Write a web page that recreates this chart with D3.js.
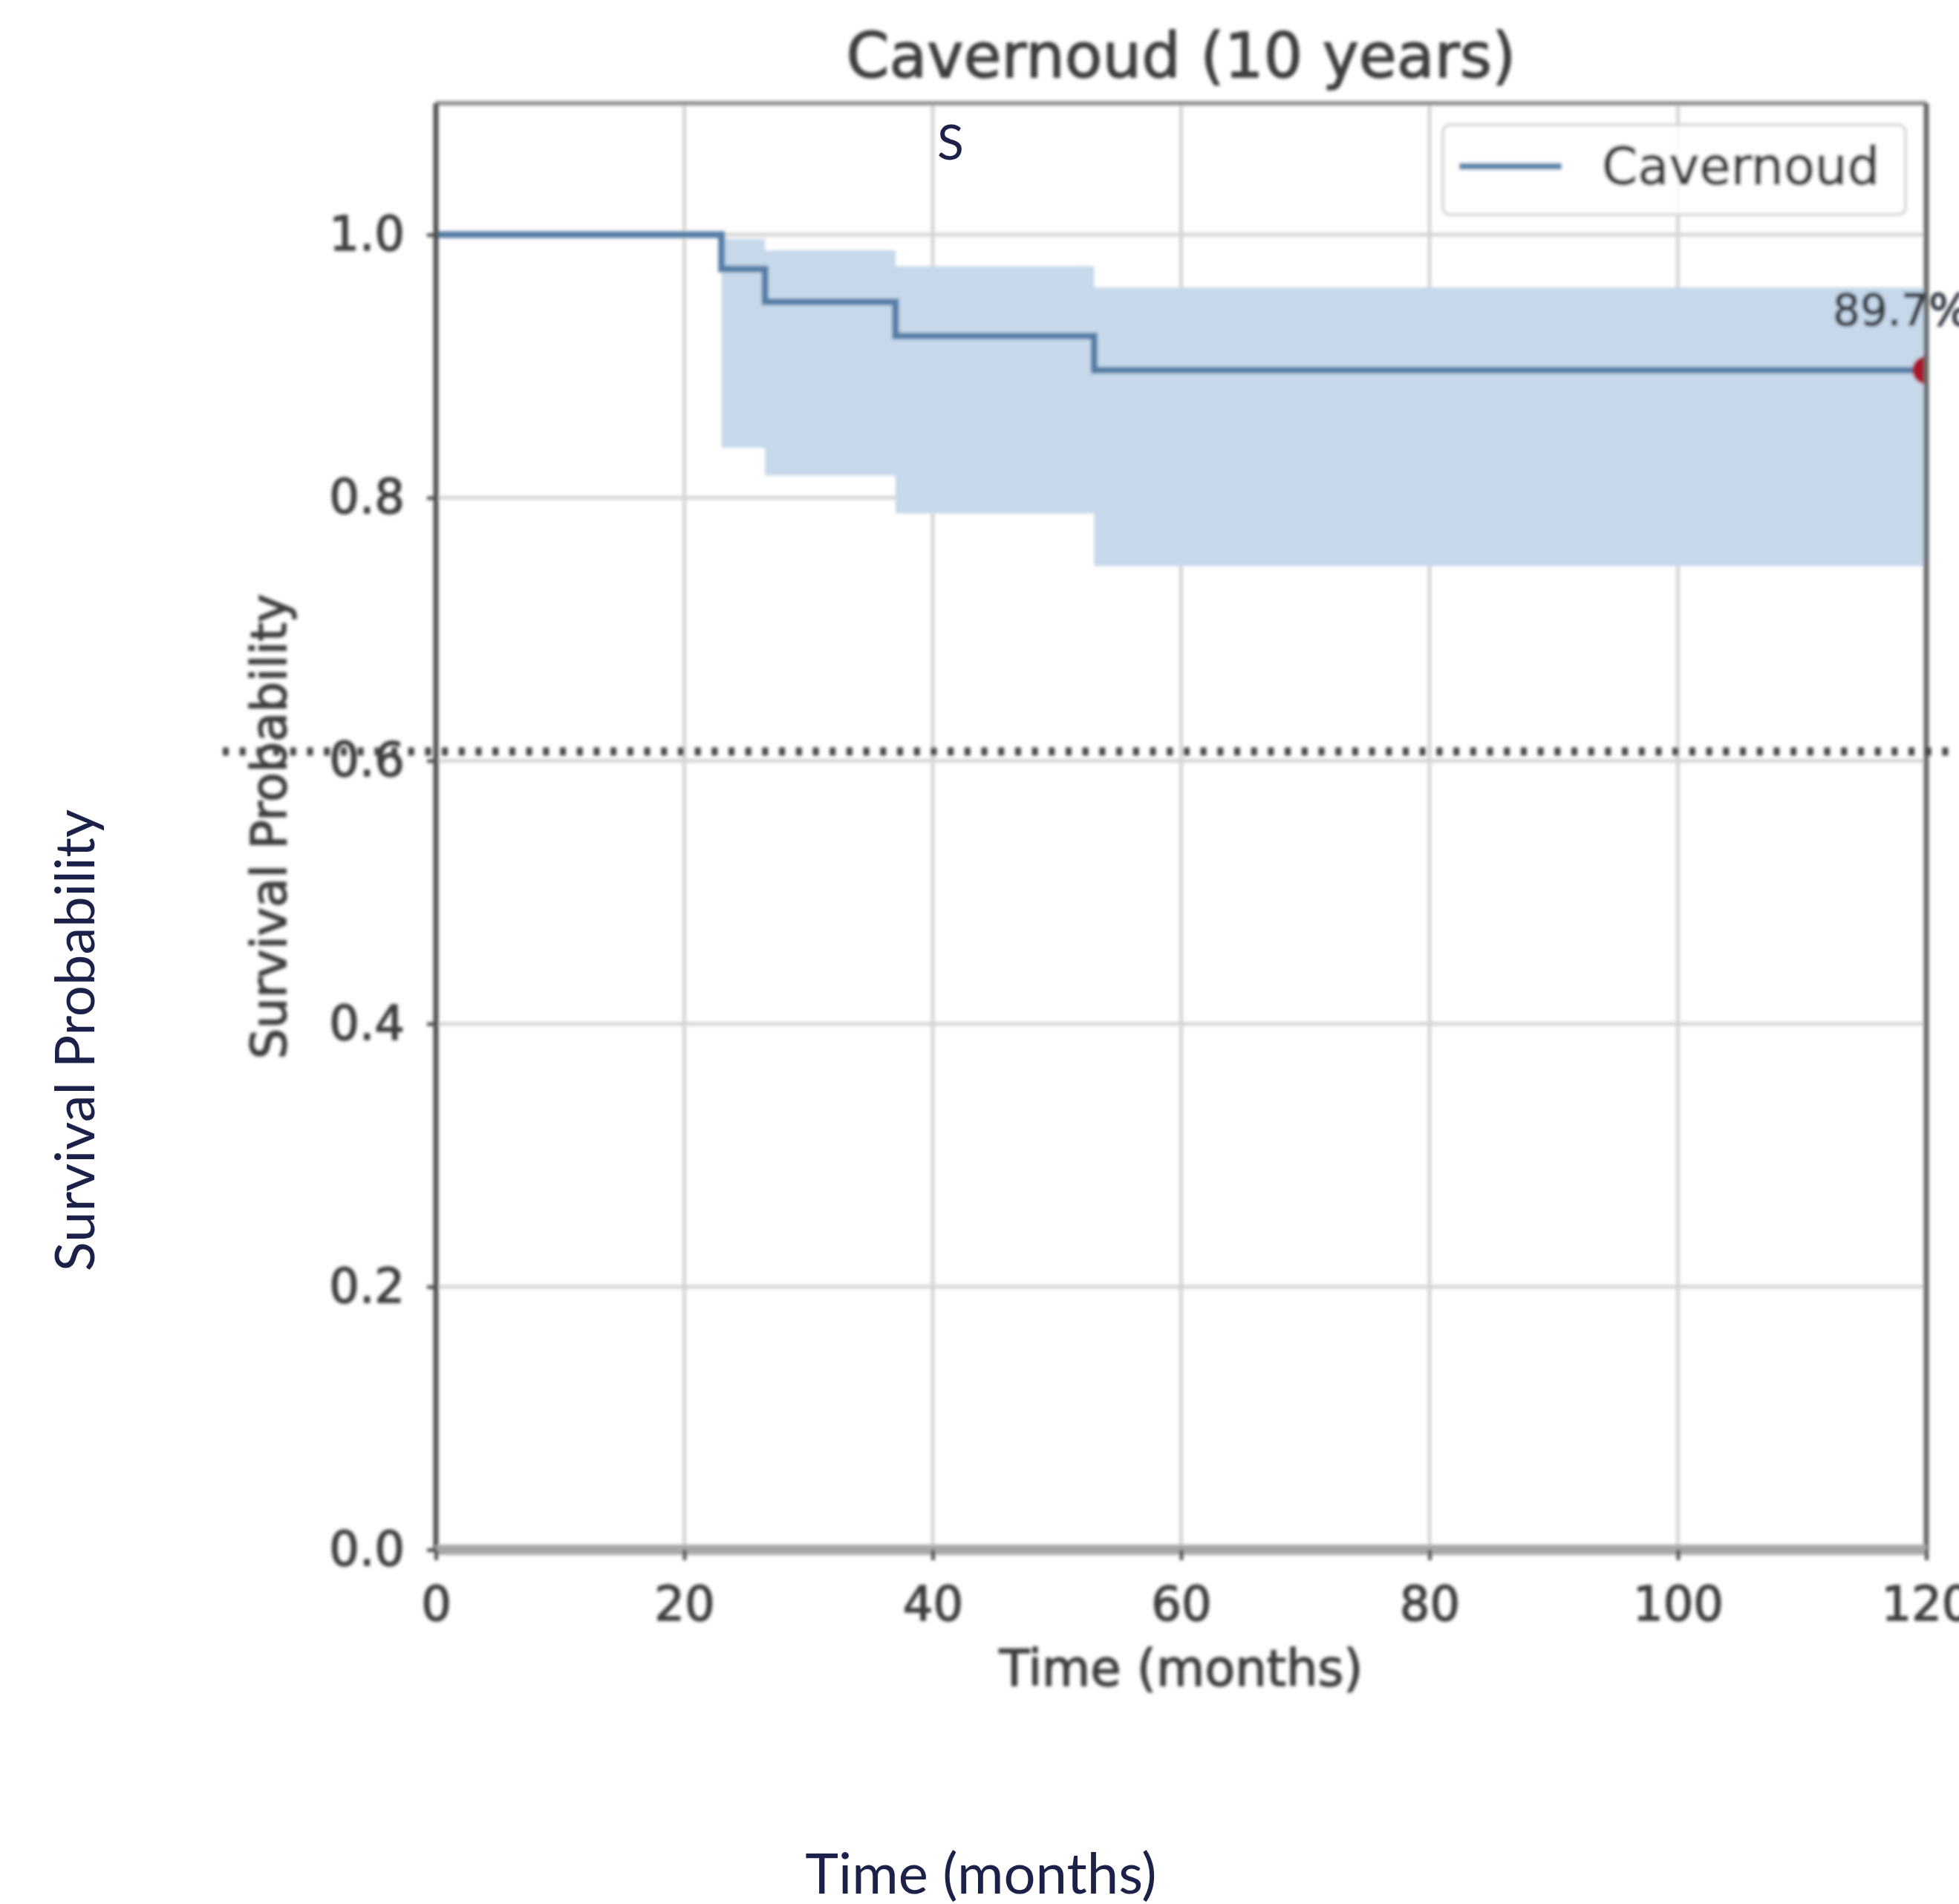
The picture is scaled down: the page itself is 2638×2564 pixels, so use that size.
<!DOCTYPE html>
<html>
<head>
<meta charset="utf-8">
<script src="https://cdn.jsdelivr.net/npm/d3@7"></script>
<style>
  html, body { margin: 0; padding: 0; background: #ffffff; }
  svg { display: block; }
</style>
</head>
<body>
<svg id="chart" width="2638" height="2564"></svg>
<script>
// ---------------- data ----------------
const seriesName = "Cavernoud";
const chartTitle = "Cavernoud (10 years)";
const eventTimes = [0, 23, 26.5, 37, 53, 120];          // months
const survival   = [1.0, 0.974, 0.949, 0.923, 0.897, 0.897];
const ciLower    = [1.0, 0.838, 0.817, 0.788, 0.748, 0.748];
const ciUpper    = [1.0, 0.997, 0.988, 0.976, 0.960, 0.960];
const xTicks = [0, 20, 40, 60, 80, 100, 120];
const yTicks = [0.0, 0.2, 0.4, 0.6, 0.8, 1.0];
const xDomain = [0, 120];
const yDomain = [0, 1.1];
const endPoint = { t: 120, s: 0.897 };
const refLineValue = 0.607;   // dotted reference line drawn over the chart
const innerXLabel = "Time (months)";
const innerYLabel = "Survival Probability";
const outerXLabel = "Time (months)";
const outerYLabel = "Survival Probability";
const outerMark = "S";

// ---------------- layout ----------------
const W = 2638, H = 2564;
const plot = { left: 587, right: 2594, top: 139, bottom: 2087 };
const x = d3.scaleLinear().domain(xDomain).range([plot.left, plot.right]);
const y = d3.scaleLinear().domain(yDomain).range([plot.bottom, plot.top]);

const svg = d3.select("#chart");
const defs = svg.append("defs");
defs.append("filter").attr("id", "soft")
  .attr("x", "-5%").attr("y", "-5%").attr("width", "110%").attr("height", "110%")
  .append("feGaussianBlur").attr("stdDeviation", 2.2);
defs.append("clipPath").attr("id", "plotClip")
  .append("rect")
  .attr("x", plot.left).attr("y", plot.top)
  .attr("width", plot.right - plot.left).attr("height", plot.bottom - plot.top);

svg.append("rect").attr("width", W).attr("height", H).attr("fill", "#ffffff");

const g = svg.append("g").attr("filter", "url(#soft)");
const innerFont = "'DejaVu Sans', sans-serif";
const textColor = "#3e3e3e";

// grid
g.append("g").selectAll("line").data(xTicks).join("line")
  .attr("x1", d => x(d)).attr("x2", d => x(d))
  .attr("y1", plot.top).attr("y2", plot.bottom)
  .attr("stroke", "#d4d4d4").attr("stroke-width", 5);
g.append("g").selectAll("line").data(yTicks).join("line")
  .attr("x1", plot.left).attr("x2", plot.right)
  .attr("y1", d => y(d)).attr("y2", d => y(d))
  .attr("stroke", "#d4d4d4").attr("stroke-width", 5);

// data table
const rows = eventTimes.map((t, i) => ({ t, s: survival[i], lo: ciLower[i], hi: ciUpper[i] }));

const clipped = g.append("g").attr("clip-path", "url(#plotClip)");

// confidence band
clipped.append("path").datum(rows)
  .attr("d", d3.area().curve(d3.curveStepAfter)
    .x(d => x(d.t)).y0(d => y(d.lo)).y1(d => y(d.hi)))
  .attr("fill", "#c6d8ea").attr("stroke", "none");

// survival step line
clipped.append("path").datum(rows)
  .attr("d", d3.line().curve(d3.curveStepAfter).x(d => x(d.t)).y(d => y(d.s)))
  .attr("fill", "none").attr("stroke", "#557ea6").attr("stroke-width", 9);

// end point marker
clipped.append("circle")
  .attr("cx", x(endPoint.t)).attr("cy", y(endPoint.s)).attr("r", 19)
  .attr("fill", "#a8142b");

// spines
g.append("line").attr("x1", plot.left).attr("x2", plot.right).attr("y1", plot.top).attr("y2", plot.top)
  .attr("stroke", "#8f8f8f").attr("stroke-width", 6);
g.append("line").attr("x1", plot.right).attr("x2", plot.right).attr("y1", plot.top).attr("y2", plot.bottom)
  .attr("stroke", "#666666").attr("stroke-width", 7);
g.append("line").attr("x1", plot.left).attr("x2", plot.left).attr("y1", plot.top).attr("y2", plot.bottom)
  .attr("stroke", "#505050").attr("stroke-width", 7);
g.append("line").attr("x1", plot.left).attr("x2", plot.right).attr("y1", plot.bottom).attr("y2", plot.bottom)
  .attr("stroke", "#a8a8a8").attr("stroke-width", 14);

// axes (ticks + labels)
const yAxis = g.append("g").attr("transform", `translate(${plot.left},0)`)
  .call(d3.axisLeft(y).tickValues(yTicks).tickFormat(d3.format(".1f")).tickSize(12).tickPadding(30));
const xAxis = g.append("g").attr("transform", `translate(0,${plot.bottom})`)
  .call(d3.axisBottom(x).tickValues(xTicks).tickFormat(d3.format("d")).tickSize(14).tickPadding(36));
[yAxis, xAxis].forEach(a => {
  a.select(".domain").remove();
  a.selectAll(".tick line").attr("stroke", "#505050").attr("stroke-width", 5);
  a.selectAll(".tick text").attr("fill", textColor).attr("stroke", textColor).attr("stroke-width", 1.5)
    .style("font-family", innerFont).style("font-size", "64px");
});

// title
g.append("text").attr("x", (plot.left + plot.right) / 2).attr("y", 104)
  .attr("text-anchor", "middle").attr("fill", textColor).attr("stroke", textColor).attr("stroke-width", 1.5)
  .style("font-family", innerFont).style("font-size", "83px").text(chartTitle);

// inner axis labels
g.append("text").attr("x", (plot.left + plot.right) / 2).attr("y", 2270)
  .attr("text-anchor", "middle").attr("fill", textColor).attr("stroke", textColor).attr("stroke-width", 1.5)
  .style("font-family", innerFont).style("font-size", "67px").text(innerXLabel);
g.append("text").attr("transform", `translate(385,${(plot.top + plot.bottom) / 2}) rotate(-90)`)
  .attr("text-anchor", "middle").attr("fill", textColor).attr("stroke", textColor).attr("stroke-width", 1.5)
  .style("font-family", innerFont).style("font-size", "65px").text(innerYLabel);

// end value label
g.append("text").attr("x", x(endPoint.t) - 126).attr("y", y(endPoint.s) - 60)
  .attr("fill", "#353b47").attr("stroke", "#353b47").attr("stroke-width", 1.5)
  .style("font-family", innerFont).style("font-size", "58px")
  .text((endPoint.s * 100).toFixed(1) + "%");

// legend
const lg = g.append("g");
lg.append("rect").attr("x", 1943).attr("y", 168).attr("width", 623).attr("height", 121)
  .attr("rx", 10).attr("fill", "#ffffff").attr("fill-opacity", 0.85)
  .attr("stroke", "#d8d8d8").attr("stroke-width", 4);
lg.append("line").attr("x1", 1965).attr("x2", 2103).attr("y1", 224).attr("y2", 224)
  .attr("stroke", "#5d86ad").attr("stroke-width", 9);
lg.append("text").attr("x", 2157).attr("y", 248).attr("fill", textColor).attr("stroke", textColor).attr("stroke-width", 1.5)
  .style("font-family", innerFont).style("font-size", "69px").text(seriesName);

// dotted reference line
g.append("line").attr("x1", 300).attr("x2", W).attr("y1", y(refLineValue)).attr("y2", y(refLineValue))
  .attr("stroke", "#444444").attr("stroke-width", 11).attr("stroke-dasharray", "8,14.7");

// outer (slide) labels, crisp navy
const outerFont = "Lato, 'Open Sans', sans-serif";
svg.append("text").attr("x", 1280).attr("y", 215).attr("text-anchor", "middle")
  .attr("fill", "#1b2148").style("font-family", outerFont).style("font-size", "66px").text(outerMark);
svg.append("text").attr("x", 1321).attr("y", 2550).attr("text-anchor", "middle")
  .attr("fill", "#1b2148").style("font-family", outerFont).style("font-size", "76px").text(outerXLabel);
svg.append("text").attr("transform", "translate(127,1401) rotate(-90)").attr("text-anchor", "middle")
  .attr("fill", "#1b2148").style("font-family", outerFont).style("font-size", "74px").text(outerYLabel);
</script>
</body>
</html>
